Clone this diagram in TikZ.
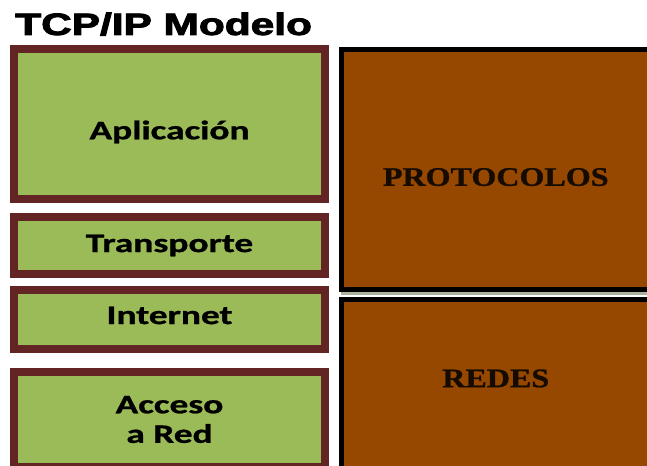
\documentclass[tikz,border=0pt]{standalone}
\usepackage{fontspec}
\usepackage{graphicx}
\setmainfont{Carlito}[BoldFeatures={FakeBold=0.8}]
\newfontfamily\titlefont{Liberation Sans}[BoldFeatures={FakeBold=2.5}]
\newfontfamily\capsfont{Liberation Serif}[BoldFeatures={FakeBold=1}]
\usetikzlibrary{shadows}

\definecolor{layergreen}{RGB}{155,187,89}
\definecolor{layerrim}{RGB}{99,37,35}
\definecolor{blockbrown}{RGB}{150,72,0}
\definecolor{shade}{RGB}{172,178,160}
\newcommand{\wide}[2][1.4]{\scalebox{#1}[1]{#2}}

\begin{document}
\begin{tikzpicture}[x=0.025cm, y=-0.025cm,
    layer/.style ={rectangle, draw=layerrim, fill=layergreen, line width=0.2cm,
       minimum width=7.775cm, inner sep=0pt, outer sep=0pt, align=center,
       drop shadow={shadow xshift=0.075cm, shadow yshift=-0.075cm, fill=shade, opacity=1}},
    layertext/.style ={font=\bfseries\fontsize{19}{21}\selectfont},
    block/.style ={rectangle, draw=black, fill=blockbrown, line width=0.125cm,
       minimum width=7.7125cm, inner sep=0pt, outer sep=0pt},
    blocktext/.style ={font=\capsfont\bfseries\fontsize{19}{21}\selectfont, text=black!85!blockbrown}]
   \useasboundingbox (0,0) rectangle (647,466);
   \clip (0,0) rectangle (647,466);
   % title
   \node[anchor=base west, inner sep=0pt, font=\titlefont\bfseries\fontsize{22}{24}\selectfont]
      (title) at (15,35) {\wide[1.37]{TCP/IP Modelo}};
   % layers
   \node[layer, minimum height=3.75cm,
      label={[layertext, yshift=-0.2cm]center:\wide{Aplicación}}] (app) at (169.5,124) {};
   \node[layer, layertext, minimum height=1.425cm] (trans) at (169.5,245.5) {\wide{Transporte}};
   \node[layer, minimum height=1.475cm,
      label={[layertext, yshift=0.1cm]center:\wide{Internet}}] (inet) at (169.5,319.5) {};
   \node[layer, layertext, minimum height=2.375cm] (acc) at (169.5,419.5) {\wide{Acceso}\\\wide{a Red}};
   % right column
   \node[block, minimum height=6cm,
      drop shadow={shadow xshift=0cm, shadow yshift=-0.125cm, fill=shade, opacity=1},
      label={[blocktext, yshift=-0.19cm]center:\wide[1.2]{PROTOCOLOS}}] (proto) at (495.75,169.5) {};
   \node[block, minimum height=4.3875cm,
      label={[blocktext, yshift=0.22cm]center:\wide[1.2]{REDES}}] (redes) at (495.75,387.25) {};
\end{tikzpicture}
\end{document}
